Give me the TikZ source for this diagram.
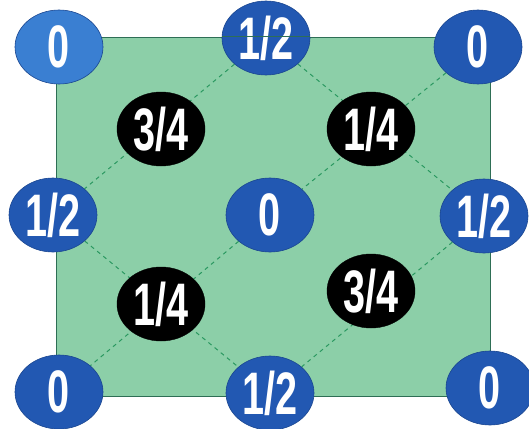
\documentclass[tikz,border=0pt]{standalone}
\usepackage{fontspec}
\newfontfamily\condfont[FakeStretch=0.66]{Liberation Sans Bold}
\usetikzlibrary{backgrounds}
\definecolor{sqgreen}{HTML}{8CCFA8}
\definecolor{sqedge}{HTML}{2E6E55}
\definecolor{dashgreen}{HTML}{2A9860}
\definecolor{nblue}{HTML}{2258B2}
\definecolor{lblue}{HTML}{3A7FD2}
\definecolor{nedge}{HTML}{1A4690}
\tikzset{
  val/.style={ellipse, minimum width=88pt, minimum height=74pt, inner sep=0pt,
    text=white, font=\condfont\fontsize{60}{60}\selectfont},
  bluenode/.style={val, fill=nblue, draw=nedge, line width=0.6pt},
  lightnode/.style={val, fill=lblue, draw=nedge, line width=0.6pt},
  blacknode/.style={val, fill=black, draw=black},
  sqbox/.style={rectangle, fill=sqgreen, draw=sqedge, line width=0.8pt, inner sep=0pt},
  dline/.style={dashgreen, line width=1pt, dash pattern=on 4pt off 4pt},
  sqline/.style={sqedge, line width=0.8pt}
}
\usetikzlibrary{shapes.geometric}
\begin{document}
\begin{tikzpicture}[x=1pt, y=-1pt]
\useasboundingbox (0,0) rectangle (529,428);
\begin{scope}[on background layer]
  \node[sqbox, minimum width=434pt, minimum height=359pt] (sq) at (273,216.5) {};
\end{scope}
% blue nodes
\node[lightnode] (tl) at (59,47) {0};
\node[bluenode] (tm) at (266,38) {1/2};
\draw[sqline] (tm.west |- sq.north) -- (tm.east |- sq.north);
\node[bluenode] (tr) at (478,47) {0};
\node[bluenode] (ml) at (53,215) {1/2};
\node[bluenode] (mc) at (270,215) {0};
\node[bluenode] (mr) at (484,216) {1/2};
\node[bluenode] (bl) at (59,392) {0};
\node[bluenode] (bm) at (270,393) {1/2};
\node[bluenode] (br) at (490,388) {0};
% black nodes
\node[blacknode] (q1) at (161,129) {3/4};
\node[blacknode] (q2) at (371,129) {1/4};
\node[blacknode] (q3) at (161,304) {1/4};
\node[blacknode] (q4) at (371,291) {3/4};
\begin{scope}[on background layer]
  \draw[dline] (tm) -- (ml);
  \draw[dline] (tm) -- (mr);
  \draw[dline] (tr) -- (mc);
  \draw[dline] (ml) -- (bm);
  \draw[dline] (mc) -- (bl);
  \draw[dline] (mr) -- (bm);
\end{scope}
\end{tikzpicture}
\end{document}
